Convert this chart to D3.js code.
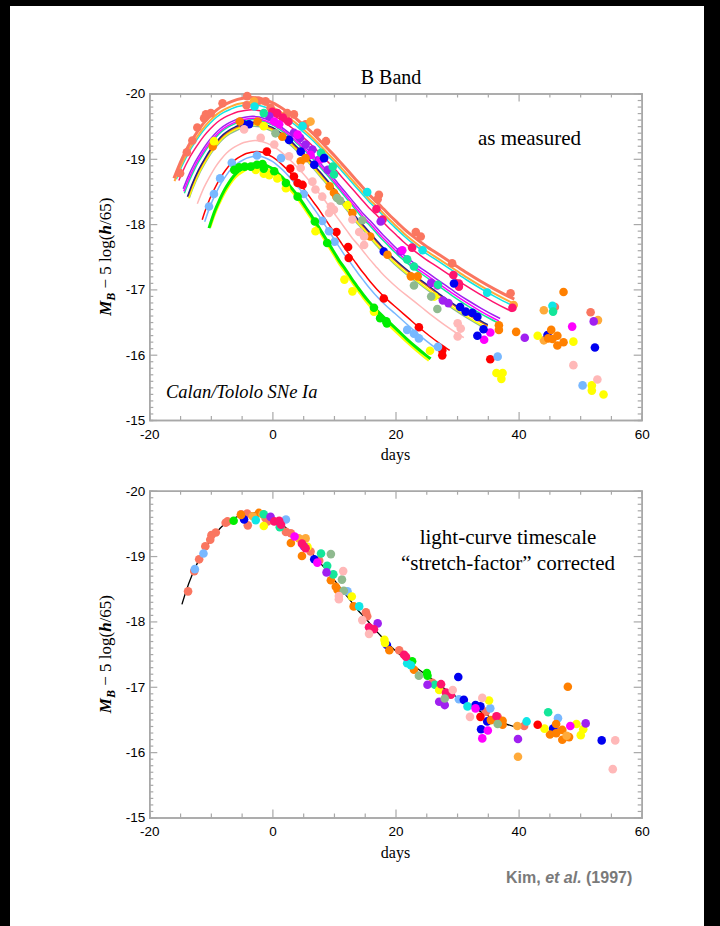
<!DOCTYPE html>
<html>
<head>
<meta charset="utf-8">
<script src="https://cdn.jsdelivr.net/npm/d3@7"></script>
<style>
  body { margin: 0; background: #000; }
  svg { display: block; }
</style>
</head>
<body>
<svg id="chart" width="720" height="926"></svg>
<script>
// colour keys shared by both panels
var colorKeys = ["salmon","lorange","orange","cyan","dpink","purple","magenta","sgreen","blue","navy","dsg","yellow","pink","red","lblue","green"]
var colorValues = ["#fa7660","#ffaa3a","#ff8000","#10e6e6","#ff146e","#a020f0","#ff00ff","#14e69a","#0000f0","#20208c","#8fba8f","#ffff00","#ffb8b8","#ff0000","#78b8ff","#00ee00"]

var xTicks = [-20, 0, 20, 40, 60]
var yTicks = [-20, -19, -18, -17, -16, -15]

// template light curve (black line of the corrected panel)
var templateDays = [-14.7,-14,-13,-12,-11,-10,-9,-8,-7,-6,-5,-4,-3,-2,-1,0,1,2,3,4,5,6,7,8,9,10,11,12,13,14,15,16,17,18,19,20,22,24,26,28,30,32,34,36,38,40]
var templateMags = [-18.26,-18.47,-18.72,-18.93,-19.1,-19.25,-19.37,-19.47,-19.54,-19.59,-19.63,-19.65,-19.66,-19.65,-19.62,-19.58,-19.52,-19.45,-19.37,-19.28,-19.19,-19.09,-18.98,-18.87,-18.76,-18.64,-18.52,-18.4,-18.28,-18.16,-18.06,-17.95,-17.84,-17.74,-17.64,-17.55,-17.39,-17.25,-17.11,-16.97,-16.84,-16.72,-16.61,-16.51,-16.43,-16.37]

// stretched template fits in the top panel
var curveKeys    = ["yellow","green","lblue","red","pink","dsg","yellow","orange","navy","sgreen","magenta","purple","dpink","cyan","lorange","salmon"]
var curvePeaks   = [-18.88,-18.93,-19.04,-19.11,-19.28,-19.5,-19.52,-19.54,-19.56,-19.6,-19.62,-19.65,-19.75,-19.83,-19.87,-19.94]
var curveStretch = [0.78,0.78,0.83,0.85,0.93,0.99,0.99,1.0,1.0,1.04,1.05,1.06,1.12,1.13,1.13,1.13]
var curveStart   = [-10.1,-10.3,-11.0,-11.4,-12.2,-13.5,-13.6,-13.7,-13.8,-14.3,-14.4,-14.5,-15.2,-15.6,-15.9,-16.0]
var curveEnd     = [25.4,25.7,28.0,28.8,31.1,34.6,34.8,35.0,35.0,36.6,36.8,37.0,39.0,38.8,39.2,39.3]
var curveWidth   = [2.2,3,1.5,1.5,1.5,1.5,1.5,1.5,1.5,1.5,1.5,1.5,1.5,1.5,2,3]

// observations as measured: [colour, day, M]
var measuredPoints = [
  ["salmon",-15.0,-18.78],["salmon",-13.9,-19.10],["salmon",-13.0,-19.28],["salmon",-12.2,-19.48],["salmon",-11.1,-19.62],
  ["salmon",-10.8,-19.68],["salmon",-10.0,-19.70],["salmon",-8.1,-19.85],["salmon",-4.1,-19.96],["salmon",-4.2,-19.82],
  ["salmon",-2.2,-19.89],["salmon",-1.1,-19.88],["salmon",-0.3,-19.78],["salmon",2.4,-19.70],["salmon",3.5,-19.68],
  ["salmon",5.4,-19.53],["salmon",7.3,-19.40],["salmon",8.7,-19.27],["salmon",17.3,-18.45],["salmon",17.1,-18.38],
  ["salmon",23.3,-17.88],["salmon",24.1,-17.81],["salmon",29.2,-17.40],["salmon",38.7,-16.94],["salmon",45.9,-16.73],["salmon",51.7,-16.65],
  ["lorange",-3.0,-19.88],["lorange",6.2,-19.57],["lorange",39.2,-16.76],["lorange",44.1,-16.68],["lorange",44.1,-16.22],["lorange",52.9,-16.53],
  ["cyan",-2.9,-19.80],["cyan",4.9,-19.50],["cyan",15.4,-18.49],["cyan",24.4,-17.60],["cyan",34.9,-16.95],["cyan",45.5,-16.75],
  ["dpink",0.0,-19.72],["dpink",0.8,-19.70],["dpink",1.7,-19.63],["dpink",2.6,-19.57],["dpink",16.9,-18.23],["dpink",17.9,-18.07],
  ["dpink",22.7,-17.64],["dpink",29.4,-17.22],["dpink",30.3,-17.09],["dpink",30.3,-17.04],["dpink",39.0,-16.72],
  ["purple",-0.5,-19.65],["purple",3.5,-19.40],["purple",4.5,-19.32],["purple",5.4,-19.22],["purple",6.5,-19.14],["purple",7.6,-18.99],
  ["purple",9.0,-18.83],["purple",17.6,-18.04],["purple",20.8,-17.58],["purple",25.8,-17.10],["purple",27.7,-16.83],["purple",28.6,-16.79],
  ["purple",41.0,-16.26],["purple",52.2,-16.51],
  ["magenta",0.3,-19.57],["magenta",1.1,-19.53],["magenta",4.1,-19.37],["magenta",6.2,-19.06],["magenta",7.8,-18.99],["magenta",21.1,-17.60],
  ["magenta",26.8,-17.06],["magenta",34.4,-16.23],["magenta",35.4,-16.34],["magenta",48.7,-16.43],
  ["sgreen",-1.4,-19.70],["sgreen",7.9,-19.09],["sgreen",9.8,-18.88],["sgreen",10.0,-18.76],["sgreen",21.9,-17.46],["sgreen",23.0,-17.35],
  ["sgreen",26.9,-17.07],["sgreen",45.6,-16.66],
  ["blue",-4.7,-19.53],["blue",-3.8,-19.53],["blue",2.7,-19.29],["blue",4.6,-19.11],["blue",6.8,-18.91],["blue",8.4,-19.01],["blue",18.1,-17.58],
  ["blue",29.5,-17.09],["blue",30.5,-16.73],["blue",31.4,-16.66],["blue",32.5,-16.64],["blue",33.3,-16.58],["blue",34.3,-16.39],["blue",33.3,-16.29],
  ["blue",44.7,-16.30],["blue",52.4,-16.11],
  ["orange",-9.7,-19.19],["orange",-5.3,-19.57],["orange",-2.4,-19.57],["orange",1.6,-19.34],["orange",4.6,-18.96],["orange",5.4,-19.01],
  ["orange",9.3,-18.58],["orange",10.0,-18.48],["orange",10.4,-18.42],["orange",13.0,-18.17],["orange",15.9,-17.81],["orange",18.7,-17.53],
  ["orange",22.5,-17.20],["orange",23.6,-17.20],["orange",36.8,-16.45],["orange",36.8,-16.38],["orange",39.6,-16.35],["orange",45.3,-16.38],
  ["orange",45.5,-16.24],["orange",46.3,-16.29],["orange",47.3,-16.19],["orange",46.3,-16.14],["orange",47.3,-16.96],["orange",44.8,-16.25],
  ["yellow",-9.5,-19.27],["yellow",-1.4,-19.50],["yellow",-2.7,-18.83],["yellow",-1.4,-18.77],["yellow",-0.5,-18.75],["yellow",0.8,-18.70],
  ["yellow",2.2,-18.55],["yellow",7.0,-17.89],["yellow",12.2,-18.29],["yellow",11.7,-17.15],["yellow",13.0,-16.97],["yellow",16.5,-16.66],
  ["yellow",25.6,-16.06],["yellow",26.3,-16.89],["yellow",36.4,-15.72],["yellow",37.4,-15.72],["yellow",37.2,-15.63],["yellow",43.1,-16.29],
  ["yellow",48.9,-16.20],["yellow",51.9,-15.53],["yellow",51.9,-15.45],["yellow",53.8,-15.39],
  ["dsg",0.5,-19.39],["dsg",10.5,-18.40],["dsg",11.0,-18.36],["dsg",14.6,-18.06],["dsg",23.0,-17.06],["dsg",25.8,-16.89],["dsg",26.8,-16.70],
  ["pink",-4.6,-19.45],["pink",-1.9,-19.32],["pink",0.3,-19.22],["pink",2.7,-19.04],["pink",4.6,-18.86],["pink",6.5,-18.65],["pink",7.0,-18.53],
  ["pink",8.1,-18.42],["pink",9.2,-18.17],["pink",9.5,-18.27],["pink",10.0,-18.22],["pink",13.0,-18.07],["pink",14.1,-17.88],["pink",14.9,-17.68],
  ["pink",14.9,-17.81],["pink",30.1,-16.48],["pink",30.6,-16.40],["pink",30.1,-16.28],["pink",48.9,-15.84],["pink",52.8,-15.62],
  ["red",-0.9,-19.11],["red",2.9,-18.85],["red",3.5,-18.73],["red",4.1,-18.63],["red",4.9,-18.60],["red",10.4,-17.88],["red",12.3,-17.65],
  ["red",12.4,-17.48],["red",18.1,-16.86],["red",23.8,-16.42],["red",27.6,-16.07],["red",27.6,-15.99],["red",35.4,-15.93],
  ["lblue",-10.3,-18.27],["lblue",-9.5,-18.46],["lblue",-8.5,-18.70],["lblue",-6.6,-18.94],["lblue",-2.5,-19.05],["lblue",1.4,-19.01],
  ["lblue",5.1,-18.46],["lblue",8.1,-18.05],["lblue",9.2,-17.89],["lblue",10.1,-17.73],["lblue",21.9,-16.38],["lblue",23.0,-16.32],
  ["lblue",23.8,-16.25],["lblue",26.9,-16.12],["lblue",36.6,-15.97],["lblue",50.4,-15.53],
  ["green",-6.2,-18.83],["green",-5.4,-18.87],["green",-4.5,-18.88],["green",-3.5,-18.88],["green",-2.5,-18.91],["green",-1.6,-18.92],
  ["green",-1.4,-18.85],["green",0.3,-18.81],["green",2.2,-18.63],["green",4.1,-18.42],["green",6.9,-18.04],["green",8.9,-17.71],
  ["green",16.5,-16.72],["green",17.5,-16.56],["green",18.5,-16.51],["green",18.6,-16.48]
]

// observations after stretch correction: [colour, day, M]
var correctedPoints = [
  ["salmon",-13.7,-18.46],["salmon",-12.7,-18.77],["salmon",-11.9,-18.95],["salmon",-10.9,-19.15],["salmon",-10.1,-19.25],["salmon",-9.9,-19.32],
  ["salmon",-9.2,-19.36],["salmon",-7.6,-19.51],["salmon",-7.3,-19.53],["salmon",-5.1,-19.64],["salmon",-4.1,-19.65],["salmon",-4.0,-19.47],
  ["salmon",-1.1,-19.58],["salmon",-0.8,-19.53],["salmon",2.2,-19.37],["salmon",3.0,-19.35],["salmon",6.2,-19.07],["salmon",7.6,-18.93],
  ["salmon",15.2,-18.14],["salmon",15.4,-18.08],["salmon",20.6,-17.56],["salmon",26.0,-17.06],["salmon",34.7,-16.62],["salmon",36.6,-16.54],
  ["salmon",40.9,-16.40],["salmon",46.1,-16.34],
  ["lblue",-12.6,-18.80],["lblue",-11.2,-19.04],["lblue",2.2,-19.56],["lblue",12.2,-18.46],["lblue",30.3,-16.81],["lblue",35.4,-16.67],["lblue",46.4,-16.52],
  ["green",-6.3,-19.54],["green",22.7,-17.39],["green",25.1,-17.21],["green",25.2,-17.17],
  ["blue",-4.6,-19.56],["blue",6.8,-18.95],["blue",18.6,-17.64],["blue",30.2,-17.15],["blue",31.1,-16.80],["blue",33.0,-16.72],["blue",33.8,-16.70],
  ["blue",34.9,-16.47],["blue",33.9,-16.35],["blue",45.6,-16.36],["blue",53.5,-16.18],
  ["orange",-5.1,-19.63],["orange",-2.2,-19.66],["orange",3.0,-19.20],["orange",4.8,-19.00],["orange",9.5,-18.63],["orange",10.3,-18.53],
  ["orange",10.6,-18.48],["orange",13.2,-18.23],["orange",19.0,-17.56],["orange",23.0,-17.26],["orange",35.5,-16.49],["orange",37.4,-16.48],
  ["orange",37.4,-16.42],["orange",48.0,-17.00],["orange",45.1,-16.27],["orange",46.1,-16.43],["orange",47.1,-16.34],["orange",47.1,-16.19],
  ["orange",48.2,-16.23],["orange",46.1,-16.29],
  ["lorange",-3.2,-19.61],["lorange",-1.6,-19.64],["lorange",4.3,-19.27],["lorange",5.4,-19.27],["lorange",39.8,-16.40],["lorange",39.9,-15.93],["lorange",47.8,-16.25],
  ["cyan",-2.7,-19.55],["cyan",14.1,-18.23],["cyan",21.9,-17.36],["cyan",22.5,-17.33],["cyan",31.7,-16.70],["cyan",41.3,-16.47],
  ["sgreen",-1.4,-19.64],["sgreen",1.2,-19.44],["sgreen",7.9,-19.04],["sgreen",8.9,-18.85],["sgreen",9.9,-18.72],["sgreen",26.4,-17.03],["sgreen",44.8,-16.61],
  ["yellow",-1.4,-19.46],["yellow",5.7,-19.14],["yellow",12.9,-18.38],["yellow",18.2,-17.72],["yellow",18.3,-17.67],["yellow",27.1,-16.95],
  ["yellow",35.2,-16.79],["yellow",44.2,-16.36],["yellow",49.4,-16.43],["yellow",50.5,-16.35],["yellow",50.1,-16.26],
  ["purple",-0.3,-19.60],["purple",5.1,-19.15],["purple",8.8,-18.75],["purple",17.1,-17.97],["purple",25.2,-17.03],["purple",27.1,-16.77],
  ["purple",28.0,-16.72],["purple",39.9,-16.20],["purple",50.9,-16.44],
  ["dpink",0.3,-19.53],["dpink",1.1,-19.54],["dpink",1.4,-19.48],["dpink",4.8,-19.19],["dpink",5.4,-19.12],["dpink",15.7,-17.91],["dpink",16.5,-17.88],
  ["dpink",21.4,-17.49],["dpink",21.7,-17.46],["dpink",27.4,-17.04],["dpink",28.2,-16.91],["dpink",29.0,-16.88],["dpink",36.4,-16.55],
  ["magenta",3.6,-19.30],["magenta",7.3,-18.90],["magenta",33.0,-16.67],["magenta",35.0,-16.33],["magenta",34.1,-16.21],["magenta",48.4,-16.40],
  ["dsg",9.5,-19.03],["dsg",11.3,-18.64],["dsg",11.6,-18.47],["dsg",23.8,-17.17],["dsg",28.0,-16.82],["dsg",36.6,-16.43],
  ["pink",11.5,-18.77],["pink",10.8,-18.34],["pink",10.8,-18.39],["pink",14.6,-18.02],["pink",15.7,-17.81],["pink",29.3,-16.95],["pink",32.1,-16.54],
  ["pink",34.1,-16.83],["pink",55.7,-16.18],["pink",55.3,-15.74],
  ["red",33.8,-16.54],["red",43.1,-16.42]
]

var serif = "'Liberation Serif','Times New Roman',Times,serif"
var sans = "'Liberation Sans',Helvetica,Arial,sans-serif"
var axisGray = "#a8a8a8"

var svg = d3.select("#chart")
svg.append("rect").attr("x",10).attr("y",6).attr("width",694).attr("height",920).attr("fill","#fff")

var color = d3.scaleOrdinal().domain(colorKeys).range(colorValues)
var x = d3.scaleLinear().domain([-20,60]).range([149.3,641.7])
var yTop = d3.scaleLinear().domain([-20,-15]).range([93.5,420])
var yBot = d3.scaleLinear().domain([-20,-15]).range([490.7,817.5])

// template as a piecewise scale
var tmpl = d3.scaleLinear().domain(templateDays).range(templateMags)
var tmplPeak = d3.min(templateMags)

var xMinor = d3.range(-20,61,5).filter(function(d){ return xTicks.indexOf(d) < 0 })
var yMinor = d3.range(0,51).map(function(i){ return -20 + i/10 }).filter(function(d){ return Math.abs(d - Math.round(d)) > 0.01 })

function styleAxis(g){
  g.selectAll("path").attr("stroke",axisGray).attr("stroke-width",1.5)
  g.selectAll("line").attr("stroke",axisGray).attr("stroke-width",1.2)
  g.selectAll("text").attr("font-family",sans).attr("font-size",13.5).attr("fill","#000")
}

function drawFrame(y, label){
  var top = y.range()[0], bottom = y.range()[1]
  var left = x.range()[0], right = x.range()[1]
  var fmt = function(d){ return String(d) }

  var gb = svg.append("g").attr("transform","translate(0,"+bottom+")")
  gb.call(d3.axisBottom(x).tickValues(xTicks).tickSizeInner(-8).tickSizeOuter(0).tickPadding(9).tickFormat(fmt))
  styleAxis(gb)
  var gbm = svg.append("g").attr("transform","translate(0,"+bottom+")")
  gbm.call(d3.axisBottom(x).tickValues(xMinor).tickSize(-4).tickFormat(""))
  styleAxis(gbm)

  var gt = svg.append("g").attr("transform","translate(0,"+top+")")
  gt.call(d3.axisTop(x).tickValues(xTicks).tickSizeInner(-8).tickSizeOuter(0).tickFormat(""))
  styleAxis(gt)
  var gtm = svg.append("g").attr("transform","translate(0,"+top+")")
  gtm.call(d3.axisTop(x).tickValues(xMinor).tickSize(-4).tickFormat(""))
  styleAxis(gtm)

  var gl = svg.append("g").attr("transform","translate("+left+",0)")
  gl.call(d3.axisLeft(y).tickValues(yTicks).tickSizeInner(-8).tickSizeOuter(0).tickPadding(4).tickFormat(fmt))
  styleAxis(gl)
  var glm = svg.append("g").attr("transform","translate("+left+",0)")
  glm.call(d3.axisLeft(y).tickValues(yMinor).tickSize(-4).tickFormat(""))
  styleAxis(glm)

  var gr = svg.append("g").attr("transform","translate("+right+",0)")
  gr.call(d3.axisRight(y).tickValues(yTicks).tickSizeInner(-8).tickSizeOuter(0).tickFormat(""))
  styleAxis(gr)
  var grm = svg.append("g").attr("transform","translate("+right+",0)")
  grm.call(d3.axisRight(y).tickValues(yMinor).tickSize(-4).tickFormat(""))
  styleAxis(grm)

  // x title
  svg.append("text").attr("x",(left+right)/2).attr("y",bottom+40)
    .attr("text-anchor","middle").attr("font-family",serif).attr("font-size",16).text("days")

  // y title
  var yl = svg.append("text")
    .attr("transform","translate(111,"+((top+bottom)/2)+") rotate(-90)")
    .attr("text-anchor","middle").attr("font-family",serif).attr("font-size",17)
  yl.append("tspan").attr("font-weight","bold").attr("font-style","italic").text("M")
  yl.append("tspan").attr("font-weight","bold").attr("font-style","italic").attr("font-size",12).attr("dy",4).text("B")
  yl.append("tspan").attr("dy",-4).text(" \u2212 5 log(")
  yl.append("tspan").attr("font-weight","bold").attr("font-style","italic").text("h")
  yl.append("tspan").text("/65)")
}

function dots(data, y){
  svg.append("g").selectAll("circle")
    .data(data)
    .enter()
    .append("circle")
    .attr("cx", function(d){ return x(d[1]) })
    .attr("cy", function(d){ return y(d[2]) })
    .attr("r", 4.3)
    .attr("fill", function(d){ return color(d[0]) })
}

// ---- top panel: as measured
drawFrame(yTop)

function curvePoints(i){
  var s = curveStretch[i], off = curvePeaks[i] - tmplPeak
  var pts = [[curveStart[i], tmpl(curveStart[i]/s) + off]]
  templateDays.forEach(function(t){
    var d = t*s
    if(d > curveStart[i] + 0.3 && d < curveEnd[i] - 0.3) pts.push([d, tmpl(t) + off])
  })
  pts.push([curveEnd[i], tmpl(curveEnd[i]/s) + off])
  return pts
}

var lineTop = d3.line()
  .x(function(d){ return x(d[0]) })
  .y(function(d){ return yTop(d[1]) })
  .curve(d3.curveMonotoneX)

curveKeys.forEach(function(k,i){
  svg.append("path")
    .attr("d", lineTop(curvePoints(i)))
    .attr("fill","none")
    .attr("stroke", color(k))
    .attr("stroke-width", curveWidth[i])
})

dots(measuredPoints, yTop)

svg.append("text").attr("x",391).attr("y",84).attr("text-anchor","middle")
  .attr("font-family",serif).attr("font-size",20).text("B Band")
svg.append("text").attr("x",529.5).attr("y",145).attr("text-anchor","middle")
  .attr("font-family",serif).attr("font-size",21).text("as measured")
svg.append("text").attr("x",166).attr("y",398).attr("font-family",serif)
  .attr("font-style","italic").attr("font-size",18.5).text("Calan/Tololo SNe Ia")

// ---- bottom panel: stretch corrected
drawFrame(yBot)

var lineBot = d3.line()
  .x(function(d,i){ return x(templateDays[i]) })
  .y(function(d){ return yBot(d) })
  .curve(d3.curveMonotoneX)

svg.append("path")
  .attr("d", lineBot(templateMags))
  .attr("fill","none")
  .attr("stroke","#000")
  .attr("stroke-width",1.3)

dots(correctedPoints, yBot)

svg.append("text").attr("x",508).attr("y",544).attr("text-anchor","middle")
  .attr("font-family",serif).attr("font-size",21).text("light-curve timescale")
svg.append("text").attr("x",508).attr("y",569.5).attr("text-anchor","middle")
  .attr("font-family",serif).attr("font-size",21).text("\u201cstretch-factor\u201d corrected")

var cite = svg.append("text").attr("x",506).attr("y",883).attr("font-family",sans)
  .attr("font-weight","bold").attr("font-size",16).attr("fill","#7a7a7a")
cite.append("tspan").text("Kim, ")
cite.append("tspan").attr("font-style","italic").text("et al.")
cite.append("tspan").text(" (1997)")
</script>
</body>
</html>
